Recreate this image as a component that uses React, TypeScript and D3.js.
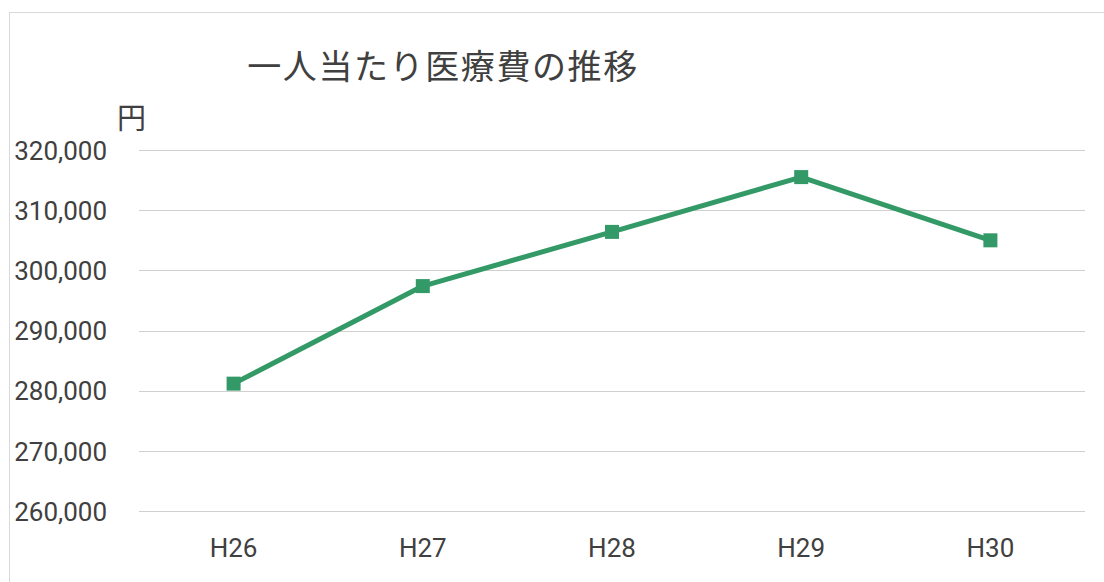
import React from "react";
import * as d3 from "d3";

const categories = ["H26", "H27", "H28", "H29", "H30"];
const values = [281200, 297400, 306400, 315500, 305000];
const yTicks = [260000, 270000, 280000, 290000, 300000, 310000, 320000];
const title = "一人当たり医療費の推移";
const unitLabel = "円";

export default function App() {
  const W = 1104;
  const H = 582;
  const x = d3.scaleBand<string>().domain(categories).range([139, 1085]);
  const y = d3.scaleLinear().domain([260000, 320000]).range([511.3, 150]);
  const fmt = d3.format(",");
  const line = d3
    .line<number>()
    .x((_, i) => (x(categories[i]) as number) + x.bandwidth() / 2)
    .y((d) => y(d));
  const textColor = "#404040";
  const green = "#339966";
  const ms = 14;
  return (
    <svg
      width={W}
      height={H}
      style={{ position: "absolute", left: 0, top: 0, background: "#fff" }}
    >
      <rect x={9.5} y={12.5} width={W + 10} height={H + 10} fill="#fff" stroke="#d9d9d9" strokeWidth={1} />
      <text
        x={443}
        y={64}
        textAnchor="middle"
        dominantBaseline="central"
        fontFamily="'Noto Sans CJK JP', sans-serif"
        fontSize={34}
        fontWeight={400}
        letterSpacing={1.6}
        fill={textColor}
      >
        {title}
      </text>
      <text
        x={131.5}
        y={115.5}
        textAnchor="middle"
        dominantBaseline="central"
        fontFamily="'Noto Sans CJK JP', sans-serif"
        fontSize={29}
        fill={textColor}
      >
        {unitLabel}
      </text>
      {yTicks.map((t) => (
        <g key={t}>
          <line x1={139} x2={1085} y1={Math.round(y(t)) + 0.5} y2={Math.round(y(t)) + 0.5} stroke="#d0d0d0" strokeWidth={1} />
          <text
            x={107}
            y={y(t) + 9.5}
            textAnchor="end"
            fontFamily="Roboto, sans-serif"
            fontSize={26}
            fill={textColor}
          >
            {fmt(t)}
          </text>
        </g>
      ))}
      {categories.map((c) => (
        <text
          key={c}
          x={(x(c) as number) + x.bandwidth() / 2}
          y={557}
          textAnchor="middle"
          fontFamily="Roboto, sans-serif"
          fontSize={26}
          fill={textColor}
        >
          {c}
        </text>
      ))}
      <path d={line(values) || ""} fill="none" stroke={green} strokeWidth={5} strokeLinejoin="round" />
      {values.map((v, i) => (
        <rect
          key={i}
          x={(x(categories[i]) as number) + x.bandwidth() / 2 - ms / 2}
          y={y(v) - ms / 2}
          width={ms}
          height={ms}
          fill={green}
        />
      ))}
    </svg>
  );
}
